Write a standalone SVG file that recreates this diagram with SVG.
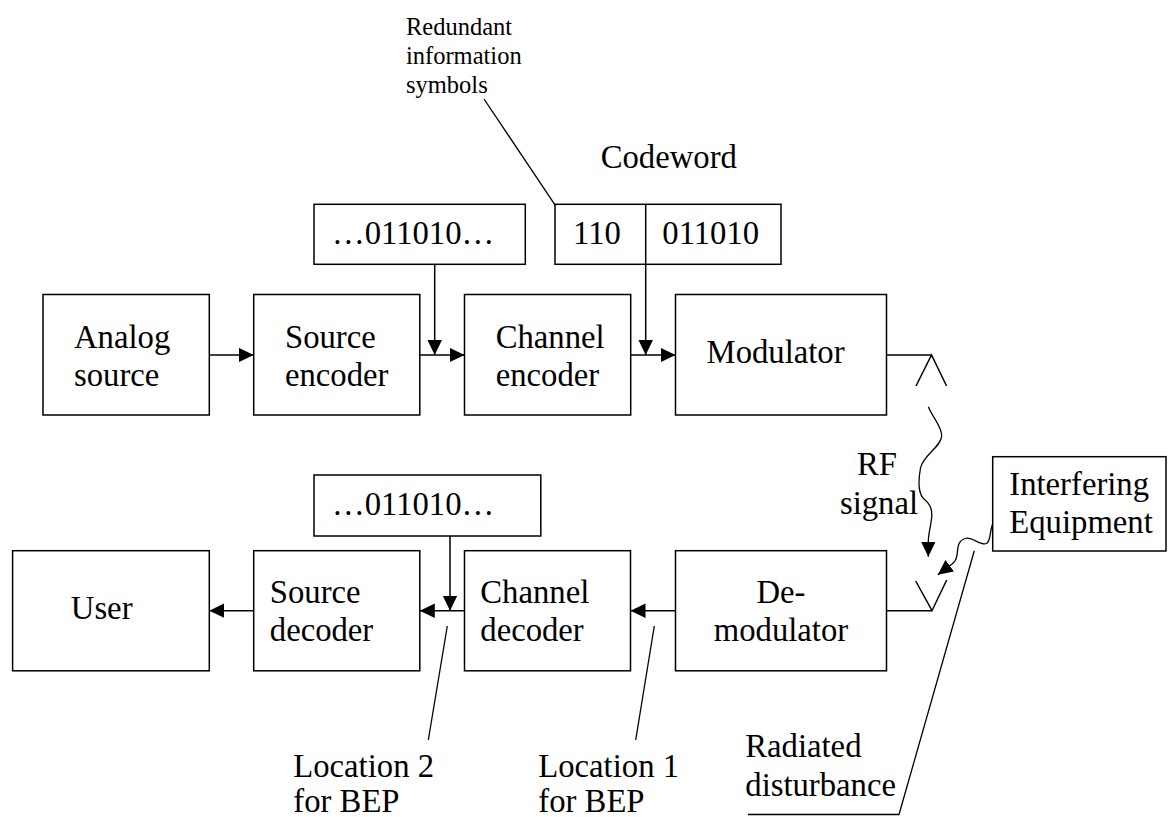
<svg xmlns="http://www.w3.org/2000/svg" width="1168" height="817" viewBox="0 0 1168 817" font-family="'Liberation Serif', 'Times New Roman', serif">
  <style>
    .box { fill: #fff; stroke: #000; stroke-width: 1.5; }
    .ln { fill: none; stroke: #000; stroke-width: 1.5; }
    .thin { fill: none; stroke: #000; stroke-width: 1.3; }
    .t { font-size: 32.7px; fill: #000; }
    .s { font-size: 24.5px; fill: #000; }
  </style>
  <defs>
    <marker id="arrow" markerUnits="userSpaceOnUse" markerWidth="16" markerHeight="15" refX="15" refY="7.25" orient="auto">
      <path d="M0,0 L15,7.25 L0,14.5 z" fill="#000"/>
    </marker>
  </defs>

  <rect width="1168" height="817" fill="#fff"/>

  <!-- connectors -->
  <g id="connectors">
    <!-- transmit chain -->
    <line class="ln" x1="209.3" y1="355" x2="253.7" y2="355" marker-end="url(#arrow)"/>
    <line class="ln" x1="419.8" y1="355" x2="464.5" y2="355" marker-end="url(#arrow)"/>
    <line class="ln" x1="630.7" y1="355" x2="675.5" y2="355" marker-end="url(#arrow)"/>
    <line class="ln" x1="434.7" y1="264" x2="434.7" y2="355" marker-end="url(#arrow)"/>
    <line class="ln" x1="645.7" y1="264" x2="645.7" y2="355" marker-end="url(#arrow)"/>
    <!-- receive chain -->
    <line class="ln" x1="253.7" y1="610.7" x2="209.3" y2="610.7" marker-end="url(#arrow)"/>
    <line class="ln" x1="464.5" y1="610.7" x2="419.8" y2="610.7" marker-end="url(#arrow)"/>
    <line class="ln" x1="675.5" y1="610.7" x2="630.5" y2="610.7" marker-end="url(#arrow)"/>
    <line class="ln" x1="450" y1="536" x2="450" y2="610.7" marker-end="url(#arrow)"/>
    <!-- antennas -->
    <path class="ln" d="M886.5 355 H931.5 M916 386 L931.5 355 L946.6 386"/>
    <path class="ln" d="M886.5 610.7 H932 M915.7 581 L932 610.7 L946.7 580"/>
    <!-- RF signal path -->
    <path class="thin" d="M928.3 406.7 C933 418, 942 427, 941.7 436 C941 447, 923 455, 920.5 468 C918 482, 918 492, 923 498 C929 503, 933 508, 931.5 519 C930.5 528, 928.3 534, 928.3 541.7 L928.3 556.7" marker-end="url(#arrow)"/>
    <!-- interference path -->
    <path class="thin" d="M992.7 524 C989.5 531, 991 541, 986.5 543.5 C980 546, 972 536, 965 538.5 C957 541, 958 549, 957 555 C956 559.5, 955.5 561.5, 951.5 564.5 L937.8 574.8" marker-end="url(#arrow)"/>
    <!-- leader lines -->
    <line class="thin" x1="484" y1="99" x2="560" y2="212.3"/>
    <line class="thin" x1="447.3" y1="626" x2="428.3" y2="740"/>
    <line class="thin" x1="654.3" y1="626" x2="635.7" y2="740"/>
    <polyline class="thin" points="748,814.5 899,814.5 974.3,550.7"/>
  </g>

  <!-- data words -->
  <g id="bits-tx">
    <rect class="box" x="314" y="204.3" width="211.3" height="60"/>
    <text class="t" x="332" y="244.3">…011010…</text>
  </g>
  <g id="codeword">
    <rect class="box" x="555" y="204.3" width="226" height="60"/>
    <line class="ln" x1="645.7" y1="204.3" x2="645.7" y2="264.3"/>
    <text class="t" x="573" y="243.7">110</text>
    <text class="t" x="662.3" y="243.7">011010</text>
    <text class="t" x="600.7" y="168">Codeword</text>
  </g>
  <g id="redundant-label">
    <text class="s" x="406" y="35">Redundant</text>
    <text class="s" x="406" y="64">information</text>
    <text class="s" x="406" y="92.7">symbols</text>
  </g>
  <g id="bits-rx">
    <rect class="box" x="314" y="475" width="226.8" height="61"/>
    <text class="t" x="332" y="515">…011010…</text>
  </g>

  <!-- transmit chain -->
  <g id="analog-source">
    <rect class="box" x="43" y="294.5" width="166.3" height="120.5"/>
    <text class="t" x="74" y="347.7">Analog</text>
    <text class="t" x="74" y="385.7">source</text>
  </g>
  <g id="source-encoder">
    <rect class="box" x="253.7" y="294.5" width="166.1" height="120.5"/>
    <text class="t" x="285" y="347.7">Source</text>
    <text class="t" x="285" y="385.7">encoder</text>
  </g>
  <g id="channel-encoder">
    <rect class="box" x="464.5" y="294.5" width="166.2" height="120.5"/>
    <text class="t" x="495.7" y="347.7">Channel</text>
    <text class="t" x="495.7" y="385.7">encoder</text>
  </g>
  <g id="modulator">
    <rect class="box" x="675.5" y="294.5" width="211" height="120.5"/>
    <text class="t" x="706.6" y="363.3">Modulator</text>
  </g>

  <!-- receive chain -->
  <g id="user">
    <rect class="box" x="12.6" y="550.7" width="196.7" height="120.1"/>
    <text class="t" x="70.8" y="619.3">User</text>
  </g>
  <g id="source-decoder">
    <rect class="box" x="253.7" y="550.7" width="166.1" height="120.1"/>
    <text class="t" x="269.8" y="603.3">Source</text>
    <text class="t" x="269.8" y="640.7">decoder</text>
  </g>
  <g id="channel-decoder">
    <rect class="box" x="464.5" y="550.7" width="166" height="120.1"/>
    <text class="t" x="480.3" y="603.3">Channel</text>
    <text class="t" x="480.3" y="640.7">decoder</text>
  </g>
  <g id="demodulator">
    <rect class="box" x="675.5" y="550.7" width="211" height="120.1"/>
    <text class="t" x="781" y="603.3" text-anchor="middle">De-</text>
    <text class="t" x="781" y="640.7" text-anchor="middle">modulator</text>
  </g>

  <!-- channel -->
  <g id="rf-signal-label">
    <text class="t" x="877" y="475" text-anchor="middle">RF</text>
    <text class="t" x="879" y="514" text-anchor="middle">signal</text>
  </g>
  <g id="interfering-equipment">
    <rect class="box" x="992.7" y="456.7" width="173.3" height="94.3"/>
    <text class="t" x="1009.3" y="495">Interfering</text>
    <text class="t" x="1009.3" y="533.3">Equipment</text>
  </g>
  <g id="radiated-label">
    <text class="t" x="745.3" y="757.3">Radiated</text>
    <text class="t" x="745.3" y="796">disturbance</text>
  </g>
  <g id="location-2">
    <text class="t" x="293.3" y="776.7">Location 2</text>
    <text class="t" x="293.3" y="812">for BEP</text>
  </g>
  <g id="location-1">
    <text class="t" x="538.3" y="776.7">Location 1</text>
    <text class="t" x="538.3" y="812">for BEP</text>
  </g>
</svg>
